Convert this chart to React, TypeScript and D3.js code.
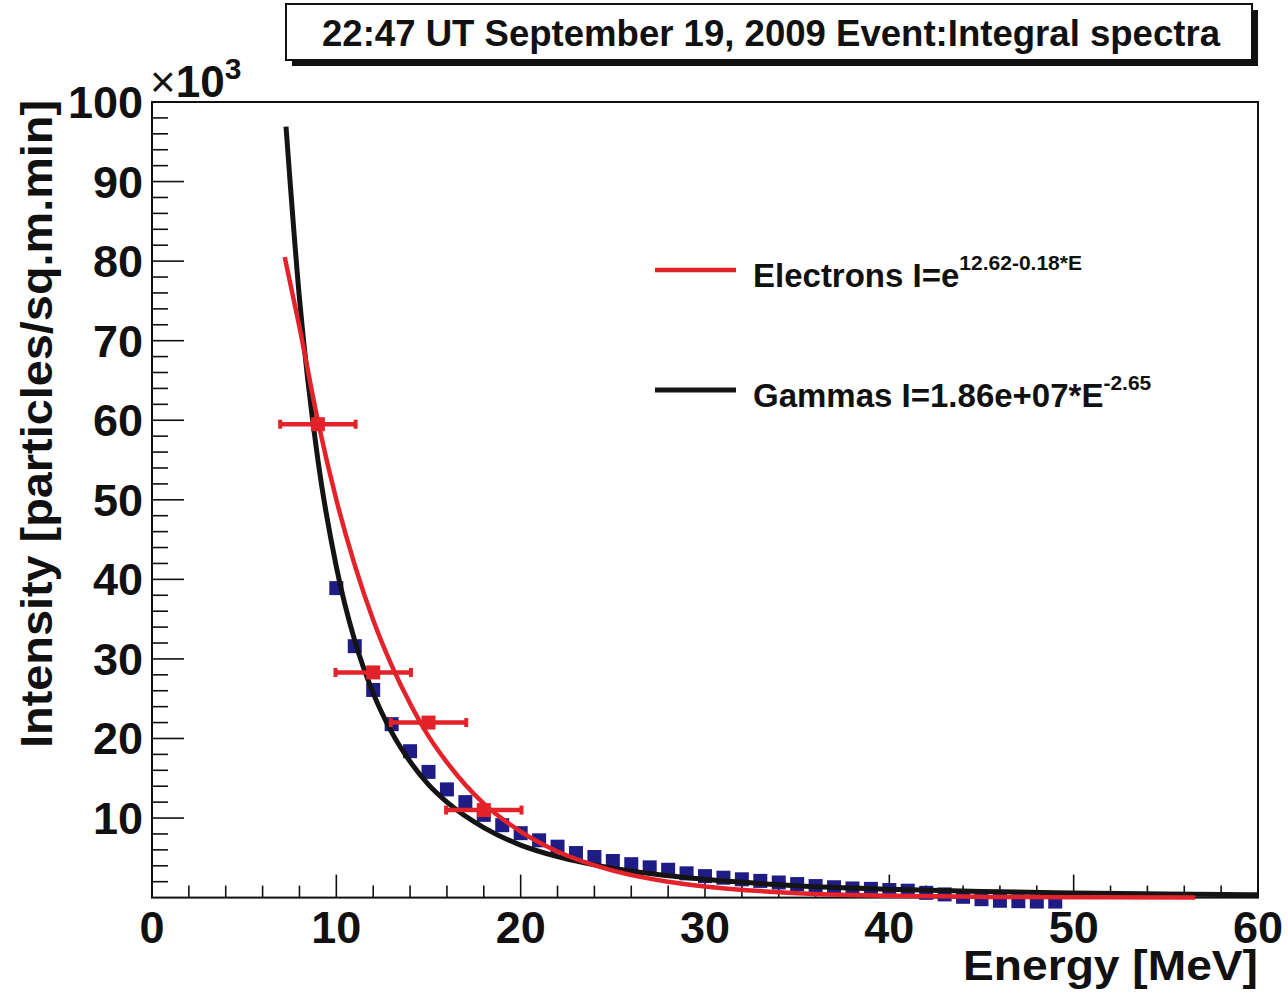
import React from "react";
import * as d3 from "d3";

// ---- data ----
const titleText = "22:47 UT September 19, 2009 Event:Integral spectra";
const xTicks = [0, 10, 20, 30, 40, 50, 60];
const yTicks = [10, 20, 30, 40, 50, 60, 70, 80, 90, 100];

// measured gamma intensities (x10^3)
const gammaE = [10, 11, 12, 13, 14, 15, 16, 17, 18, 19, 20, 21, 22, 23, 24, 25, 26, 27, 28, 29, 30, 31, 32, 33, 34, 35, 36, 37, 38, 39, 40, 41, 42, 43, 44, 45, 46, 47, 48, 49];
const gammaI = [38.9, 31.6, 26.1, 21.8, 18.4, 15.8, 13.6, 12.0, 10.4, 9.1, 8.1, 7.2, 6.4, 5.6, 5.1, 4.6, 4.2, 3.8, 3.5, 3.05, 2.7, 2.5, 2.3, 2.1, 1.9, 1.7, 1.45, 1.3, 1.15, 1.1, 0.95, 0.87, 0.6, 0.4, 0.1, -0.2, -0.4, -0.45, -0.5, -0.5];

// measured electron intensities with energy errors
const elecE = [9, 12, 15, 18];
const elecI = [59.5, 28.3, 22.0, 11.0];
const elecErr = [2.1, 2.1, 2.1, 2.1];

// fitted curves, points
const gFitE = [7.27, 8, 9, 10, 11, 12, 13, 14, 15, 16, 18, 20, 22, 25, 30, 35, 40, 45, 50, 55, 60];
const gFitI = [96.9, 75.3, 55.0, 41.6, 32.3, 25.7, 20.8, 17.1, 14.2, 12.0, 8.8, 6.6, 5.15, 3.7, 2.3, 1.5, 1.06, 0.77, 0.58, 0.45, 0.36];
const eFitE = [7.2, 8, 9, 10, 11, 12, 13, 14, 15, 16, 18, 20, 22, 25, 28, 30, 35, 40, 45, 50, 56.6];
const eFitI = [80.5, 71.7, 59.9, 50.0, 41.8, 34.9, 29.2, 24.4, 20.3, 17.0, 11.8, 8.3, 5.8, 3.4, 2.0, 1.4, 0.56, 0.23, 0.09, 0.04, 0.01];

const FONT = "'Liberation Sans', Arial, Helvetica, sans-serif";
const RED = "#e3222a";
const BLUE = "#1f1d85";

export default function App() {
  const W = 1288, H = 993;
  const x = d3.scaleLinear().domain([0, 60]).range([152, 1258]);
  const y = d3.scaleLinear().domain([0, 100]).range([897.6, 102]);

  const line = d3.line<[number, number]>()
    .x(d => x(d[0]))
    .y(d => y(d[1]))
    .curve(d3.curveMonotoneX);

  const gFit = line(gFitE.map((e, i) => [e, gFitI[i]] as [number, number])) || "";
  const eFit = line(eFitE.map((e, i) => [e, eFitI[i]] as [number, number])) || "";

  const xMinor = d3.range(0, 60.001, 2);
  const yMinor = d3.range(2, 100.001, 2);

  const sq = 14;

  return (
    <svg width={W} height={H} style={{ position: "absolute", left: 0, top: 0, background: "#fff" }} fontFamily={FONT}>
      <rect x={0} y={0} width={W} height={H} fill="#fff" />
      {/* title box with shadow */}
      <rect x={292} y={10} width={966} height={56} fill="#111" />
      <rect x={286} y={4} width={966} height={56} fill="#fff" stroke="#111" strokeWidth={2} />
      <text x={771} y={46} textAnchor="middle" fontSize={37} fontWeight="bold" fill="#111"
        textLength={898} lengthAdjust="spacingAndGlyphs">{titleText}</text>

      {/* frame */}
      <rect x={x(0)} y={y(100)} width={x(60) - x(0)} height={y(0) - y(100)} fill="none" stroke="#111" strokeWidth={2} />

      {/* x ticks */}
      {xMinor.map(v => {
        const major = v % 10 === 0;
        return <line key={"xm" + v} x1={x(v)} x2={x(v)} y1={y(0)} y2={y(0) - (major ? 23 : 12)} stroke="#111" strokeWidth={1.6} />;
      })}
      {xTicks.map(v => (
        <text key={"xl" + v} x={x(v)} y={943} textAnchor="middle" fontSize={45} fontWeight="bold" fill="#111">{v}</text>
      ))}
      {/* y ticks */}
      {yMinor.map(v => {
        const major = v % 10 === 0;
        return <line key={"ym" + v} x1={x(0)} x2={x(0) + (major ? 32 : 16)} y1={y(v)} y2={y(v)} stroke="#111" strokeWidth={1.6} />;
      })}
      {yTicks.map(v => (
        <text key={"yl" + v} x={143} y={y(v) + 16} textAnchor="end" fontSize={45} fontWeight="bold" fill="#111">{v}</text>
      ))}
      <text x={150} y={97} fontSize={44} fill="#111">
        <tspan fontWeight="normal">×</tspan><tspan fontWeight="bold">10</tspan>
        <tspan fontWeight="bold" fontSize={30} dy={-18}>3</tspan>
      </text>

      {/* axis titles */}
      <text x={1258} y={980} textAnchor="end" fontSize={42} fontWeight="bold" fill="#111"
        textLength={295} lengthAdjust="spacingAndGlyphs">Energy [MeV]</text>
      <text transform="translate(52,100) rotate(-90)" textAnchor="end" fontSize={44} fontWeight="bold" fill="#111"
        textLength={648} lengthAdjust="spacingAndGlyphs">Intensity [particles/sq.m.min]</text>

      {/* gamma data squares */}
      {gammaE.map((e, i) => (
        <rect key={"g" + i} x={x(e) - sq / 2} y={y(gammaI[i]) - sq / 2} width={sq} height={sq} fill={BLUE} />
      ))}

      {/* fits */}
      <path d={gFit} fill="none" stroke="#141414" strokeWidth={5} />
      <path d={eFit} fill="none" stroke={RED} strokeWidth={4.5} />

      {/* electron data with error bars */}
      {elecE.map((e, i) => (
        <g key={"e" + i} fill={RED} stroke={RED}>
          <line x1={x(e - elecErr[i])} x2={x(e + elecErr[i])} y1={y(elecI[i])} y2={y(elecI[i])} strokeWidth={4.5} />
          <rect x={x(e - elecErr[i]) - 1} y={y(elecI[i]) - 4.5} width={4} height={9} stroke="none" />
          <rect x={x(e + elecErr[i]) - 3} y={y(elecI[i]) - 4.5} width={4} height={9} stroke="none" />
          <rect x={x(e) - sq / 2} y={y(elecI[i]) - sq / 2} width={sq} height={sq} stroke="none" />
        </g>
      ))}

      {/* legend */}
      <line x1={655} x2={736} y1={270} y2={270} stroke={RED} strokeWidth={4.5} />
      <text x={753} y={287} fontSize={33} fontWeight="bold" fill="#111">
        Electrons I=e<tspan fontSize={21} dy={-17}>12.62-0.18*E</tspan>
      </text>
      <line x1={655} x2={736} y1={390} y2={390} stroke="#141414" strokeWidth={5} />
      <text x={753} y={407} fontSize={33} fontWeight="bold" fill="#111">
        Gammas I=1.86e+07*E<tspan fontSize={21} dy={-17}>-2.65</tspan>
      </text>
    </svg>
  );
}
